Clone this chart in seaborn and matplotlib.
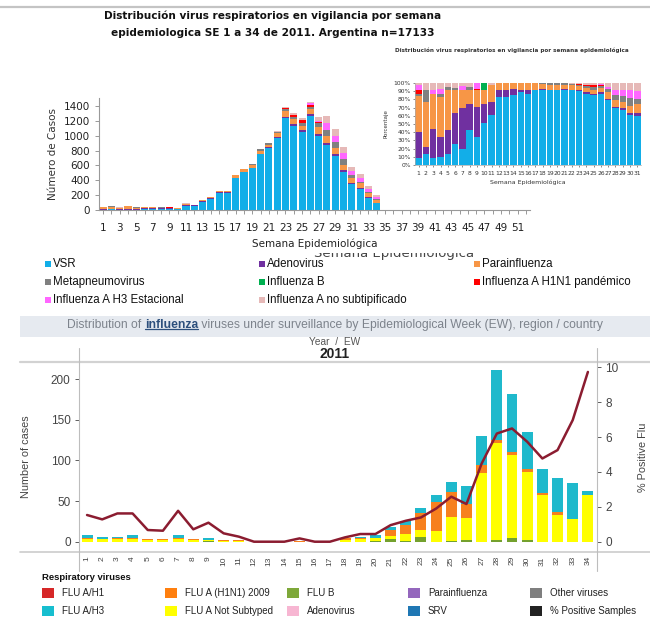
import matplotlib
matplotlib.use("Agg")
import matplotlib.pyplot as plt
import numpy as np
import pandas as pd
import seaborn as sns
from matplotlib.patches import Rectangle
from matplotlib.lines import Line2D
from matplotlib.ticker import PercentFormatter
from matplotlib.transforms import Bbox, TransformedBbox

# ---------------- data: top chart (Argentina, cases by week) ----------------
weeks_top = list(range(1, 35))
vsr    = [4, 8, 3, 6, 5, 12, 9, 15, 12, 14, 55, 56, 112, 153, 228, 226, 429, 508, 563, 755,
          834, 967, 1244, 1132, 1049, 1261, 992, 876, 728, 515, 350, 283, 166, 90]
adeno  = [14, 4, 13, 14, 10, 16, 22, 12, 13, 6, 14, 5, 11, 14, 8, 10, 5, 5, 6, 0,
          9, 11, 14, 26, 25, 29, 25, 25, 22, 25, 17, 15, 12, 8]
para   = [20, 30, 15, 28, 17, 13, 10, 6, 8, 5, 18, 6, 12, 13, 20, 24, 37, 33, 37, 41,
          36, 53, 69, 65, 62, 72, 100, 102, 87, 68, 70, 60, 50, 40]
meta   = [1, 7, 0, 2, 2, 1, 0, 1, 0, 0, 0, 0, 0, 0, 0, 0, 0, 6, 13, 25,
          27, 21, 28, 26, 37, 29, 50, 76, 76, 84, 29, 20, 15, 12]
infb   = [0, 0, 0, 0, 0, 0, 0, 0, 0, 2, 0, 0, 0, 0, 0, 0, 0, 0, 0, 0,
          0, 0, 0, 0, 0, 0, 0, 0, 0, 0, 0, 0, 0, 0]
h1n1   = [3, 0, 0, 0, 0, 0, 0, 0, 1, 0, 0, 0, 0, 0, 0, 0, 0, 0, 0, 0,
          0, 0, 14, 26, 37, 29, 12, 0, 0, 0, 0, 0, 0, 0]
h3     = [2, 0, 2, 4, 0, 0, 2, 0, 2, 0, 0, 0, 0, 0, 0, 0, 0, 0, 0, 0,
          0, 0, 0, 0, 0, 14, 25, 89, 87, 76, 58, 50, 45, 20]
nosub  = [1, 5, 3, 4, 2, 3, 2, 2, 0, 0, 3, 0, 0, 0, 0, 0, 0, 0, 0, 0,
          0, 11, 13, 26, 24, 15, 52, 102, 86, 76, 59, 57, 35, 32]

top_labels = ["VSR", "Adenovirus", "Parainfluenza", "Metapneumovirus", "Influenza B",
              "Influenza A H1N1 pandémico", "Influenza A H3 Estacional",
              "Influenza A no subtipificado"]
top_colors = ["#12aee8", "#7030a0", "#f79646", "#808080", "#00b050",
              "#ff0000", "#ff66ff", "#e6b9b8"]
top_weeks_axis = list(range(1, 53))

# ---------------- data: inset (percentage by week) ----------------
weeks_inset = list(range(1, 32))
p_vsr   = [8, 14, 8, 10, 14, 26, 20, 43, 34, 51, 61, 83, 83, 85, 89, 87, 91, 92, 91, 92,
           92, 91, 90, 87, 85, 87, 79, 69, 67, 61, 60]
p_adeno = [32, 8, 36, 24, 29, 37, 49, 32, 37, 24, 16, 8, 8, 8, 3, 4, 1, 1, 1, 0,
           1, 1, 1, 2, 2, 2, 2, 2, 2, 3, 3]
p_para  = [44, 55, 43, 49, 48, 29, 22, 17, 20, 17, 20, 9, 9, 7, 8, 9, 8, 6, 6, 5,
           4, 5, 5, 5, 5, 5, 8, 8, 8, 8, 12]
p_meta  = [2, 14, 0, 4, 4, 2, 0, 3, 0, 0, 0, 0, 0, 0, 0, 0, 0, 1, 2, 3,
           3, 2, 2, 2, 3, 2, 4, 6, 7, 10, 5]
p_infb  = [0, 0, 0, 0, 0, 0, 0, 0, 0, 8, 0, 0, 0, 0, 0, 0, 0, 0, 0, 0,
           0, 0, 0, 0, 0, 0, 0, 0, 0, 0, 0]
p_h1n1  = [6, 0, 0, 0, 0, 0, 0, 0, 2, 0, 0, 0, 0, 0, 0, 0, 0, 0, 0, 0,
           0, 0, 1, 2, 3, 2, 0, 0, 0, 0, 0]
p_h3    = [5, 0, 5, 6, 0, 0, 5, 0, 7, 0, 0, 0, 0, 0, 0, 0, 0, 0, 0, 0,
           0, 0, 0, 0, 0, 1, 2, 7, 8, 9, 10]
p_nosub = [3, 9, 8, 7, 5, 6, 4, 5, 0, 0, 3, 0, 0, 0, 0, 0, 0, 0, 0, 0,
           0, 1, 1, 2, 2, 1, 5, 8, 8, 9, 10]

# ---------------- data: bottom chart (influenza, cases by EW) ----------------
weeks_bot = list(range(1, 35))
flu_b       = [0, 0, 0, 0, 0, 0, 0, 0, 1, 0, 0, 0, 0, 0, 0, 0, 0, 0, 0, 1,
               3, 1, 6, 0, 1, 2, 0, 2, 4, 2, 0, 0, 0, 0]
flu_notsub  = [3, 3, 3, 3, 2, 2, 3, 2, 1, 1, 1, 0, 0, 0, 0, 0, 0, 2, 3, 3,
               4, 8, 8, 13, 30, 27, 84, 119, 103, 84, 58, 33, 28, 57]
flu_h1n1_09 = [2, 0, 1, 1, 1, 1, 1, 1, 0, 1, 1, 0, 0, 0, 1, 0, 0, 2, 1, 1,
               8, 11, 21, 36, 30, 17, 11, 4, 4, 3, 2, 3, 0, 1]
flu_h3      = [3, 3, 2, 4, 0, 0, 4, 0, 2, 0, 0, 0, 0, 0, 0, 0, 0, 0, 2, 3,
               3, 6, 6, 9, 12, 23, 35, 86, 71, 46, 30, 43, 44, 4]
pct_positive = [1.53, 1.28, 1.62, 1.62, 0.67, 0.63, 1.77, 0.71, 1.09, 0.48, 0.29, 0, 0, 0,
                0.19, 0, 0, 0.25, 0.44, 0.44, 0.95, 1.2, 1.39, 1.9, 2.58, 2.16, 4.48,
                6.2, 6.49, 5.73, 4.77, 5.25, 6.97, 9.73]
bot_labels = ["FLU B", "FLU A Not Subtyped", "FLU A (H1N1) 2009", "FLU A/H3"]
bot_colors = ["#74a12e", "#ffff00", "#f7801e", "#1fb9cc"]
line_color = "#8b1c30"

legend_bot_labels = [["FLU A/H1", "FLU A (H1N1) 2009", "FLU B", "Parainfluenza", "Other viruses"],
                     ["FLU A/H3", "FLU A Not Subtyped", "Adenovirus", "SRV", "% Positive Samples"]]
legend_bot_colors = [["#d62728", "#ff7f0e", "#7ea83a", "#9467bd", "#7f7f7f"],
                     ["#17becf", "#ffff00", "#f7b6d2", "#1f77b4", "#222222"]]

# ---------------- figure ----------------
sns.set_theme(style="white")
plt.rcParams['font.family'] = ['DejaVu Sans']
W, H = 650, 617
fig = plt.figure(figsize=(W / 100, H / 100), dpi=100)
fig.patch.set_facecolor("white")


def fx(x):
    return x / W


def fy(y):
    return 1 - y / H


def axes_px(x0, y0, x1, y1):
    return fig.add_axes([fx(x0), fy(y1), (x1 - x0) / W, (y1 - y0) / H])


def fline(xs, ys, **kw):
    fig.add_artist(Line2D([fx(v) for v in xs], [fy(v) for v in ys],
                          transform=fig.transFigure, **kw))


ARIAL = ["Liberation Sans", "DejaVu Sans"]

# top separator line + titles
fline([0, 650], [7, 7], color="#c4c4c4", lw=1.6)
fig.text(fx(273), fy(16), "Distribución virus respiratorios en vigilancia por semana",
         ha="center", va="center", fontsize=7.6, fontweight="bold", color="#111")
fig.text(fx(273), fy(33), "epidemiologica SE 1 a 34 de 2011. Argentina n=17133",
         ha="center", va="center", fontsize=7.6, fontweight="bold", color="#111")

# ---- top main chart ----
df_top = pd.concat([pd.DataFrame({"week": weeks_top, "count": s, "virus": lab})
                    for s, lab in zip([vsr, adeno, para, meta, infb, h1n1, h3, nosub], top_labels)])
ax_top = axes_px(99, 98, 530, 210)
sns.histplot(data=df_top, x="week", weights="count", hue="virus",
             hue_order=top_labels[::-1], palette=dict(zip(top_labels, top_colors)),
             multiple="stack", discrete=True, shrink=0.86, linewidth=0, alpha=1,
             legend=False, ax=ax_top)
ax_top.set_xlim(0.5, 52.5)
ax_top.set_ylim(0, 1508)
ax_top.set_yticks([0, 200, 400, 600, 800, 1000, 1200, 1400])
ax_top.set_xticks(top_weeks_axis)
ax_top.set_xticklabels([str(w) if w % 2 == 1 else "" for w in top_weeks_axis])
ax_top.tick_params(axis="both", labelsize=7.5, colors="#222", length=3, width=0.6,
                   left=True, bottom=True)
ax_top.tick_params(axis="x", pad=6.5, color="#888")
ax_top.tick_params(axis="y", pad=3.5, color="#888")
for side in ["top", "right"]:
    ax_top.spines[side].set_visible(False)
for side in ["left", "bottom"]:
    ax_top.spines[side].set_color("#999")
    ax_top.spines[side].set_linewidth(0.8)
ax_top.set_xlabel("Semana Epidemiológica", fontsize=7.5, color="#222", labelpad=4)
ax_top.set_ylabel("Número de Casos", fontsize=7.5, color="#333", labelpad=4)
ax_top.patch.set_alpha(0)

# ghost (partly hidden) axis title: only its lower half shows
ghost = fig.text(fx(394), fy(254), "Semana Epidemiológica", ha="center", va="center",
                 fontsize=9.5, color="#444")
ghost.set_clip_box(TransformedBbox(Bbox([[fx(300), fy(260.5)], [fx(500), fy(252.5)]]),
                                   fig.transFigure))
ghost.set_clip_on(True)

# ---- inset ----
df_in = pd.concat([pd.DataFrame({"week": weeks_inset, "pct": s, "virus": lab})
                   for s, lab in zip([p_vsr, p_adeno, p_para, p_meta, p_infb, p_h1n1, p_h3, p_nosub],
                                     top_labels)])
ax_in = axes_px(415, 83, 641, 165)
sns.histplot(data=df_in, x="week", weights="pct", hue="virus",
             hue_order=top_labels[::-1], palette=dict(zip(top_labels, top_colors)),
             multiple="fill", discrete=True, shrink=0.88, linewidth=0, alpha=1,
             legend=False, ax=ax_in)
ax_in.set_xlim(0.5, 31.5)
ax_in.set_ylim(0, 1)
ax_in.set_yticks(np.arange(0, 1.01, 0.1))
ax_in.yaxis.set_major_formatter(PercentFormatter(1.0, decimals=0))
ax_in.set_xticks(weeks_inset)
ax_in.tick_params(axis="both", labelsize=4.3, colors="#333", length=1.5, width=0.4,
                  left=True, bottom=True, pad=1.5)
ax_in.tick_params(axis="x", pad=2.5)
for side in ["top", "right"]:
    ax_in.spines[side].set_visible(False)
for side in ["left", "bottom"]:
    ax_in.spines[side].set_color("#aaa")
    ax_in.spines[side].set_linewidth(0.5)
ax_in.set_xlabel("Semana Epidemiológica", fontsize=4.5, color="#333", labelpad=3)
ax_in.set_ylabel("Porcentaje", fontsize=4, color="#333", labelpad=4)
fig.text(fx(512), fy(50), "Distribución virus respiratorios en vigilancia por semana epidemiológica",
         ha="center", va="center", fontsize=4.1, fontweight="bold", color="#333")

# ---- top legend ----
lx = [45, 259, 474]
ly = [264, 282, 300]
for i, (lab, col) in enumerate(zip(top_labels, top_colors)):
    r, c = divmod(i, 3)
    fig.add_artist(Rectangle((fx(lx[c]), fy(ly[r] + 3)), 6 / W, 6 / H,
                             transform=fig.transFigure, facecolor=col, edgecolor="none"))
    fig.text(fx(lx[c] + 8), fy(ly[r]), lab, ha="left", va="center", fontsize=8.3,
             family=ARIAL, color="#111")

# ---- bottom header band (behind everything) ----
fig.add_artist(Rectangle((fx(20), fy(337)), 630 / W, 21 / H, transform=fig.transFigure,
                         facecolor="#e6eaf0", edgecolor="none", zorder=-5))

# ---- bottom chart ----
df_bot = pd.concat([pd.DataFrame({"week": weeks_bot, "count": s, "virus": lab})
                    for s, lab in zip([flu_b, flu_notsub, flu_h1n1_09, flu_h3], bot_labels)])
ax_b = axes_px(79, 362, 597, 552)
sns.histplot(data=df_bot, x="week", weights="count", hue="virus",
             hue_order=bot_labels[::-1], palette=dict(zip(bot_labels, bot_colors)),
             multiple="stack", discrete=True, shrink=0.72, linewidth=0, alpha=1,
             legend=False, ax=ax_b)
ax_b.set_xlim(0.47, 34.6)
ax_b.set_ylim(-12.7, 221.3)
ax_b.set_yticks([0, 50, 100, 150, 200])
ax_b.set_xticks(weeks_bot)
ax_b.set_xticklabels([str(w) for w in weeks_bot], rotation=90)
ax_b.tick_params(axis="y", labelsize=8.5, colors="#444", length=3, width=0.6, left=True,
                 pad=3, labelfontfamily="Liberation Sans")
ax_b.tick_params(axis="x", labelsize=6, colors="#444", length=0, pad=3,
                 labelfontfamily="Liberation Sans")
for s in ax_b.spines.values():
    s.set_visible(False)
ax_b.set_xlabel("")
ax_b.set_ylabel("Number of cases", fontsize=7.8, color="#444", family=ARIAL, labelpad=14)

ax_r = ax_b.twinx()
sns.lineplot(x=weeks_bot, y=pct_positive, ax=ax_r, color=line_color, lw=1.8)
ax_r.set_ylim(-0.59, 10.30)
ax_r.set_yticks([0, 2, 4, 6, 8, 10])
ax_r.tick_params(axis="y", labelsize=8.5, colors="#444", length=3, width=0.6, right=True,
                 pad=3, labelfontfamily="Liberation Sans")
for s in ax_r.spines.values():
    s.set_visible(False)
ax_r.set_ylabel("% Positive Flu", fontsize=7.8, color="#444", family=ARIAL, labelpad=14)
ax_r.grid(False)
ax_b.grid(False)

# frame lines of bottom panel
fline([20, 650], [362, 362], color="#d2d2d2", lw=1.6)
fline([20, 650], [552, 552], color="#cccccc", lw=1.2)
fline([79, 79], [348, 571], color="#bdbdbd", lw=0.8)
fline([597, 597], [348, 571], color="#bdbdbd", lw=0.8)

# header text (mixed style)
HF = 8.7
t1 = fig.text(fx(67), fy(331), "Distribution of ", ha="left", va="bottom", fontsize=HF,
              color="#7d838c", family=ARIAL)
t2 = ax_b.annotate("influenza", xy=(1, 0), xycoords=t1, ha="left", va="bottom",
                   fontsize=HF, fontweight="bold", color="#2c4f7c", family=ARIAL,
                   annotation_clip=False)
t3 = ax_b.annotate(" viruses under surveillance by Epidemiological Week (EW), region / country",
                   xy=(1, 0), xycoords=t2, ha="left", va="bottom", fontsize=HF,
                   color="#7d838c", family=ARIAL, annotation_clip=False)
t2.set_zorder(10)
t3.set_zorder(10)
fig.text(fx(335), fy(342), "Year  /  EW", ha="center", va="center", fontsize=7.3,
         color="#555", family=ARIAL)
fig.text(fx(335), fy(354), "2011", ha="center", va="center", fontsize=10,
         fontweight="bold", color="#222", family=ARIAL)

# ---- bottom legend ----
fig.text(fx(42), fy(577), "Respiratory viruses", ha="left", va="center", fontsize=6.8,
         fontweight="bold", color="#111", family=ARIAL)
bx = [42, 165, 287, 408, 530]
by = [593, 611]
for r in range(2):
    for c in range(5):
        fig.add_artist(Rectangle((fx(bx[c]), fy(by[r] + 5)), 12 / W, 10 / H,
                                 transform=fig.transFigure,
                                 facecolor=legend_bot_colors[r][c], edgecolor="none"))
        fig.text(fx(bx[c] + 20), fy(by[r]), legend_bot_labels[r][c], ha="left",
                 va="center", fontsize=7, color="#222", family=ARIAL)

# underline "influenza"
fig.canvas.draw()
bb = t2.get_window_extent()
inv = fig.transFigure.inverted()
(x0, y0), (x1, _) = inv.transform([[bb.x0, bb.y0], [bb.x1, bb.y0]])
fig.add_artist(Line2D([x0, x1], [y0 + 2.2 / H, y0 + 2.2 / H], transform=fig.transFigure,
                      color="#2c4f7c", lw=0.9))

fig.savefig("out.png", dpi=100)
